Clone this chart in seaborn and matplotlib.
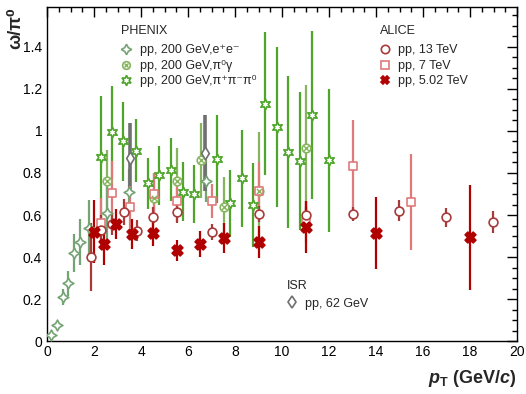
import numpy as np
import pandas as pd
import matplotlib
matplotlib.use("Agg")
import matplotlib.pyplot as plt
from matplotlib.lines import Line2D
from matplotlib.ticker import MultipleLocator, FuncFormatter
import seaborn as sns

# PHENIX pp 200 GeV, omega -> e+e-
ee_x = [0.15, 0.43, 0.68, 0.9, 1.15, 1.4, 1.79, 2.55, 3.5, 6.77]
ee_y = [0.03, 0.076, 0.21, 0.275, 0.42, 0.47, 0.54, 0.61, 0.71, 0.76]
ee_err = [0.01, 0.015, 0.04, 0.06, 0.09, 0.11, 0.13, 0.15, 0.11, 0.1]

# PHENIX pp 200 GeV, omega -> pi0 gamma
pg_x = [2.55, 4.55, 5.53, 6.55, 7.55, 9.02, 11.0]
pg_y = [0.76, 0.68, 0.76, 0.86, 0.64, 0.715, 0.92]
pg_err = [0.15, 0.12, 0.16, 0.18, 0.14, 0.28, 0.3]

# PHENIX pp 200 GeV, omega -> pi+ pi- pi0
p3_x = [2.3, 2.77, 3.24, 3.79, 4.3, 4.77, 5.28, 5.79, 6.26, 7.23,
        7.79, 8.3, 8.77, 9.28, 9.79, 10.26, 10.77, 11.28, 12.0]
p3_y = [0.876, 0.995, 0.95, 0.905, 0.75, 0.79, 0.815, 0.71, 0.70, 0.865,
        0.656, 0.775, 0.648, 1.13, 1.02, 0.90, 0.857, 1.076, 0.86]
p3_err = [0.29, 0.22, 0.19, 0.15, 0.12, 0.14, 0.15, 0.14, 0.14, 0.21,
          0.16, 0.23, 0.2, 0.34, 0.38, 0.36, 0.33, 0.40, 0.34]

# ISR pp 62 GeV
isr_x = [3.53, 6.72]
isr_y = [0.87, 0.895]
isr_err = [0.17, 0.18]

# ALICE pp 13 TeV
a13_x = [1.87, 2.3, 2.77, 3.28, 3.83, 4.51, 5.53, 7.02, 9.02, 11.02, 13.02, 14.98, 16.98, 18.98]
a13_y = [0.40, 0.53, 0.557, 0.614, 0.524, 0.59, 0.614, 0.519, 0.605, 0.60, 0.605, 0.62, 0.59, 0.567]
a13_err = [0.16, 0.07, 0.05, 0.06, 0.05, 0.05, 0.05, 0.04, 0.04, 0.04, 0.035, 0.05, 0.045, 0.053]

# ALICE pp 7 TeV
a7_x = [2.3, 2.77, 3.53, 4.55, 5.53, 7.02, 9.02, 11.02, 13.02, 15.49]
a7_y = [0.56, 0.705, 0.64, 0.70, 0.667, 0.667, 0.714, 0.567, 0.833, 0.662]
a7_err = [0.12, 0.15, 0.1, 0.1, 0.1, 0.08, 0.14, 0.1, 0.22, 0.23]

# ALICE pp 5.02 TeV
a5_x = [2.0, 2.43, 2.94, 3.62, 4.51, 5.53, 6.51, 7.53, 9.02, 11.02, 14.0, 18.0]
a5_y = [0.52, 0.462, 0.557, 0.509, 0.514, 0.433, 0.462, 0.49, 0.471, 0.543, 0.514, 0.495]
a5_err = [0.15, 0.1, 0.07, 0.07, 0.06, 0.05, 0.06, 0.07, 0.075, 0.125, 0.17, 0.25]

sns.set_theme(style="white")
plt.rcParams["font.family"] = ["Liberation Sans", "DejaVu Sans"]
plt.rcParams["mathtext.fontset"] = "custom"
plt.rcParams["mathtext.rm"] = "Liberation Sans:bold"
plt.rcParams["mathtext.it"] = "Liberation Sans:bold:italic"
plt.rcParams["mathtext.bf"] = "Liberation Sans:bold"

star4 = (4, 1, 0)
star6 = (6, 1, 0)
c_ee, c_pg, c_p3 = "#74a374", "#86b55e", "#4ea52a"
c_isr = "#707070"
c_13, c_7, c_5 = "#a83a3a", "#e07a7a", "#b00000"

series = [
    # x, y, err, colour, marker, size, filled, lw
    (p3_x, p3_y, p3_err, c_p3, star6, 60, False, 1.6),
    (pg_x, pg_y, pg_err, c_pg, "o", 38, False, 1.6),
    (ee_x, ee_y, ee_err, c_ee, star4, 60, False, 1.6),
    (isr_x, isr_y, isr_err, c_isr, "d", 42, False, 2.6),
    (a7_x, a7_y, a7_err, c_7, "s", 40, False, 1.6),
    (a13_x, a13_y, a13_err, c_13, "o", 40, False, 1.6),
    (a5_x, a5_y, a5_err, c_5, "X", 60, True, 1.6),
]

fig, ax = plt.subplots(figsize=(5.26, 3.94), dpi=100)
fig.subplots_adjust(left=0.0894, right=0.983, bottom=0.1345, top=0.982)

for x, y, err, col, mk, sz, filled, lw in series:
    ax.errorbar(x, y, yerr=err, fmt="none", ecolor=col, elinewidth=lw, capsize=0, zorder=2)
    df = pd.DataFrame({"x": x, "y": y})
    sns.scatterplot(data=df, x="x", y="y", ax=ax, marker=mk, s=sz,
                    color=col, facecolor=col if filled else "white",
                    edgecolor=col, linewidth=1.2, zorder=3)
    if x is pg_x:
        # cross inside the pi0 gamma circles
        sns.scatterplot(data=df, x="x", y="y", ax=ax, marker="x", s=14,
                        color=col, linewidth=1.0, zorder=4)

ax.set_xlim(0, 20)
ax.set_ylim(0, 1.59)
ax.xaxis.set_major_locator(MultipleLocator(2))
ax.xaxis.set_minor_locator(MultipleLocator(0.5))
ax.yaxis.set_major_locator(MultipleLocator(0.2))
ax.yaxis.set_minor_locator(MultipleLocator(0.05))
ax.yaxis.set_major_formatter(FuncFormatter(lambda v, p: "%g" % round(v, 2)))
ax.tick_params(which="both", direction="in", top=True, right=True, colors="black",
               labelsize=10)
ax.tick_params(which="major", length=7, width=1)
ax.tick_params(which="minor", length=3.5, width=1)
ax.tick_params(axis="x", pad=3)
for s in ax.spines.values():
    s.set_color("black")
    s.set_linewidth(1)

ax.set_xlabel(r"$p_{\mathrm{T}}$ (GeV/$c$)", loc="right", fontsize=13,
              fontweight="bold", labelpad=6)
ax.set_ylabel("ω/π⁰", loc="top", fontsize=13, fontweight="bold", labelpad=-1)


def handle(col, mk, filled, ms=6):
    return Line2D([], [], ls="none", marker=mk, ms=ms, color=col,
                  mfc=col if filled else "white", mec=col, mew=1.2)


leg_kw = dict(frameon=False, fontsize=9, title_fontsize=9, alignment="left",
              handlelength=0.8, handletextpad=0.7, labelspacing=0.28,
              borderpad=0.7, borderaxespad=0, loc="upper left")

pg_handle = (handle(c_pg, "o", False, 5.5),
             Line2D([], [], ls="none", marker="x", ms=3, color=c_pg, mew=1.0))
phenix = ax.legend(handles=[handle(c_ee, star4, False, 7.5), pg_handle,
                            handle(c_p3, star6, False, 7.5)],
                   labels=["pp, 200 GeV,e⁺e⁻", "pp, 200 GeV,π⁰γ", "pp, 200 GeV,π⁺π⁻π⁰"],
                   title="PHENIX", bbox_to_anchor=(0.139, 0.973), **leg_kw)
phenix._legend_box.sep = 5.5
ax.add_artist(phenix)

alice = ax.legend(handles=[handle(c_13, "o", False),
                           handle(c_7, "s", False),
                           handle(c_5, "X", True)],
                  labels=["pp, 13 TeV", "pp, 7 TeV", "pp, 5.02 TeV"],
                  title="ALICE", bbox_to_anchor=(0.689, 0.973), **leg_kw)
alice._legend_box.sep = 5.5
ax.add_artist(alice)

isr = ax.legend(handles=[handle(c_isr, "d", False)],
                labels=["pp, 62 GeV"], title="ISR",
                bbox_to_anchor=(0.491, 0.208), **leg_kw)
isr._legend_box.sep = 4

fig.savefig("out.png", dpi=100)
